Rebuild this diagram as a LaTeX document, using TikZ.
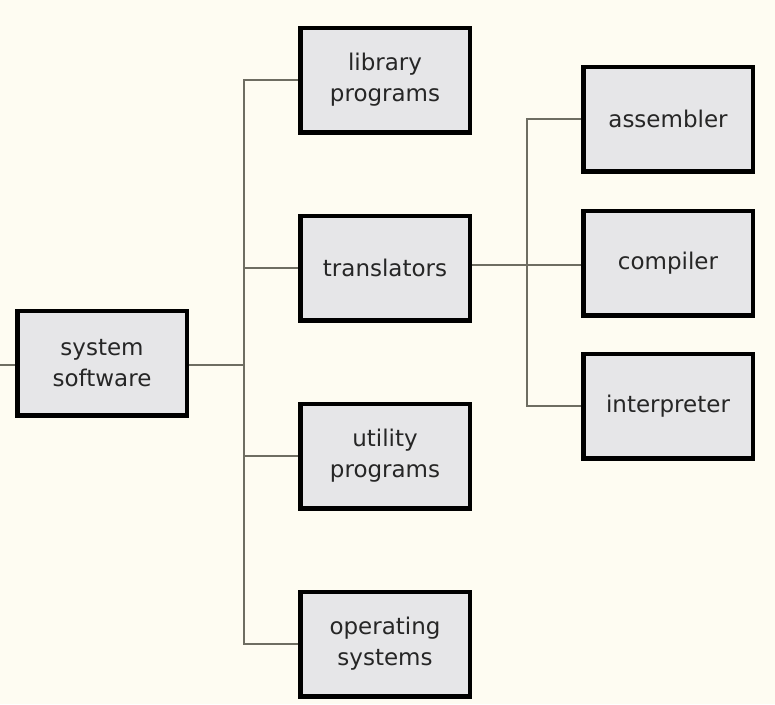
\documentclass[tikz,border=0pt]{standalone}
\usepackage{fontspec}
\setmainfont{DejaVu Sans}
\usepackage{tikz}

\definecolor{paper}{HTML}{FEFCF2}
\definecolor{boxfill}{HTML}{E6E6E8}
\definecolor{wire}{HTML}{6E6D62}

\begin{document}
\begin{tikzpicture}[x=1pt, y=-1pt,
    item/.style={draw=black, line width=3pt, fill=boxfill, minimum width=168pt,
        minimum height=103pt, align=center, text=black!85,
        font=\fontsize{23}{31}\selectfont},
    link/.style={draw=wire, line width=2pt}]
    %Background
    \fill[paper] (0,0) rectangle (775,704);
    \useasboundingbox (0,0) rectangle (775,704);

    %Root
    \node[item] (sys) at (102,363) {system\\software};

    %First level
    \node[item] (lib) at (385,80)  {library\\programs};
    \node[item] (tra) at (385,268) {translators};
    \node[item] (uti) at (385,456) {utility\\programs};
    \node[item] (ops) at (385,644) {operating\\systems};

    %Second level
    \node[item] (asm) at (668,119) {assembler};
    \node[item] (com) at (668,263) {compiler};
    \node[item] (int) at (668,406) {interpreter};

    %Junctions
    \coordinate (in)  at (0,365);
    \coordinate (ja)  at (244,365);
    \coordinate (jb)  at (527,265);

    %Left trunk
    \draw[link] (in) -- (sys.west |- in);
    \draw[link] (sys.east |- ja) -- (ja);
    \draw[link] (ja) |- (lib.west);
    \draw[link] (ja) |- (tra.west);
    \draw[link] (ja) |- (uti.west);
    \draw[link] (ja) |- (ops.west);

    %Right trunk
    \draw[link] (tra.east |- jb) -- (jb);
    \draw[link] (jb) |- (asm.west);
    \draw[link] (jb) -- (com.west |- jb);
    \draw[link] (jb) |- (int.west);

    %Redraw boxes over the wires
    \foreach \n in {sys,lib,tra,uti,ops,asm,com,int}
        \draw[line width=3pt] (\n.south west) rectangle (\n.north east);
\end{tikzpicture}
\end{document}
